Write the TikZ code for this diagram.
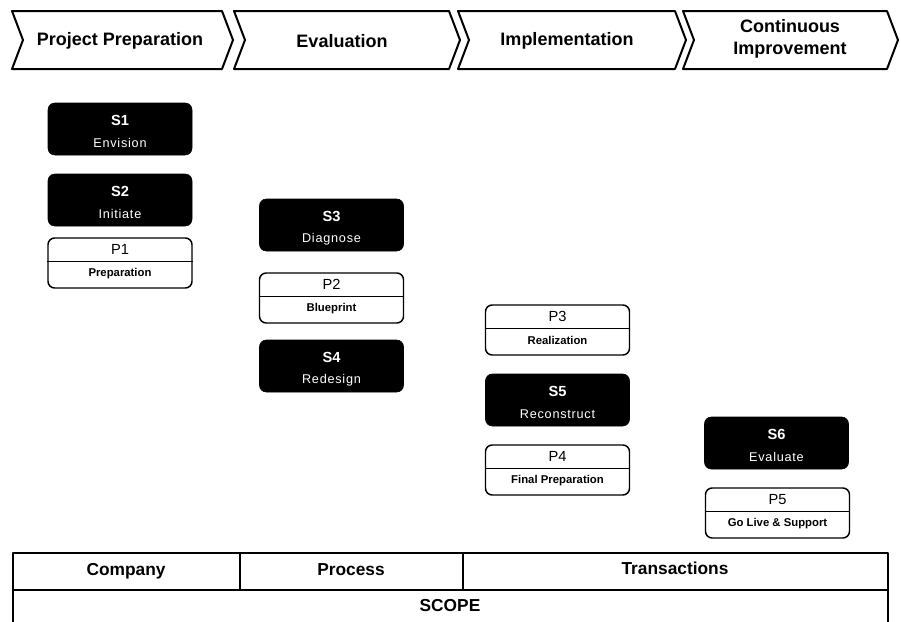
\documentclass[tikz,border=0pt]{standalone}
\usepackage{fontspec}
\setmainfont{Liberation Sans}
\newfontfamily\spacedfont[LetterSpace=6]{Liberation Sans}
\begin{document}
\begin{tikzpicture}[x=0.75pt,y=-0.75pt,line join=round,
  chev/.style={draw=black,line width=1.5pt,fill=white},
  chevtext/.style={font=\fontsize{13.5}{15}\selectfont\bfseries,align=center,inner sep=0pt},
  sbox/.style={draw=black,fill=black,rounded corners=5pt,minimum width=108pt,minimum height=39pt,inner sep=0pt},
  pbox/.style={draw=black,fill=white,line width=1.1pt,rounded corners=5pt,minimum width=108pt,minimum height=37.5pt,inner sep=0pt},
  stitle/.style={text=white,font=\fontsize{11}{12}\selectfont\bfseries,inner sep=0pt},
  ssub/.style={text=white,font=\spacedfont\fontsize{9.5}{11}\selectfont,inner sep=0pt},
  ptitle/.style={font=\fontsize{11}{12}\selectfont,inner sep=0pt},
  psub/.style={font=\fontsize{8.5}{10}\selectfont\bfseries,inner sep=0pt},
  tabtext/.style={font=\fontsize{13}{15}\selectfont\bfseries,inner sep=0pt},
  rule/.style={draw=black,line width=1.1pt}]
\useasboundingbox (0,0) rectangle (901,622);
\newcommand\chevshape[2]{\draw[chev] (#1,11) -- (#2,11) -- ({#2+11},40) -- (#2,69) -- (#1,69) -- ({#1+11},40) -- cycle;}
% chevrons
\chevshape{12}{222}
\chevshape{234}{449}
\chevshape{458}{675}
\chevshape{683}{887}
\node[chevtext] (c1) at (120,41) {Project Preparation};
\node[chevtext] (c2) at (342,41) {Evaluation};
\node[chevtext] (c3) at (567,41) {Implementation};
\node[chevtext] (c4) at (790,39) {Continuous\\[1pt]Improvement};
% steps
\newcommand\sstep[5]{%
  \node[sbox] (#1) at (#2,#3) {};
  \node[stitle] (#1t) at ([yshift=-13pt]#1.north) {#4};
  \node[ssub] (#1s) at ([yshift=-30pt]#1.north) {#5};}
\newcommand\pstep[5]{%
  \node[pbox] (#1) at (#2,#3) {};
  \draw[black,line width=1.1pt] ([yshift=-18pt]#1.north west) -- ([yshift=-18pt]#1.north east);
  \node[ptitle] (#1t) at ([yshift=-9pt]#1.north) {#4};
  \node[psub] (#1s) at ([yshift=-27.5pt]#1.north) {#5};}
\sstep{s1}{120}{129}{S1}{Envision}
\sstep{s2}{120}{200}{S2}{Initiate}
\pstep{p1}{120}{263}{P1}{Preparation}
\sstep{s3}{331.5}{225}{S3}{Diagnose}
\pstep{p2}{331.5}{298}{P2}{Blueprint}
\sstep{s4}{331.5}{366}{S4}{Redesign}
\pstep{p3}{557.5}{330}{P3}{Realization}
\sstep{s5}{557.5}{400}{S5}{Reconstruct}
\pstep{p4}{557.5}{470}{P4}{Final Preparation}
\sstep{s6}{776.5}{443}{S6}{Evaluate}
\pstep{p5}{777.5}{513}{P5}{Go Live \& Support}
% table
\draw[rule] (13,622) -- (13,553) -- (888,553) -- (888,622);
\draw[rule] (13,590) -- (888,590);
\draw[rule] (240,553) -- (240,590);
\draw[rule] (463,553) -- (463,590);
\node[tabtext] (t1) at (126,571) {Company};
\node[tabtext] (t2) at (351,570) {Process};
\node[tabtext] (t3) at (675,568) {Transactions};
\node[tabtext] (t4) at (450,606) {SCOPE};
\end{tikzpicture}
\end{document}
